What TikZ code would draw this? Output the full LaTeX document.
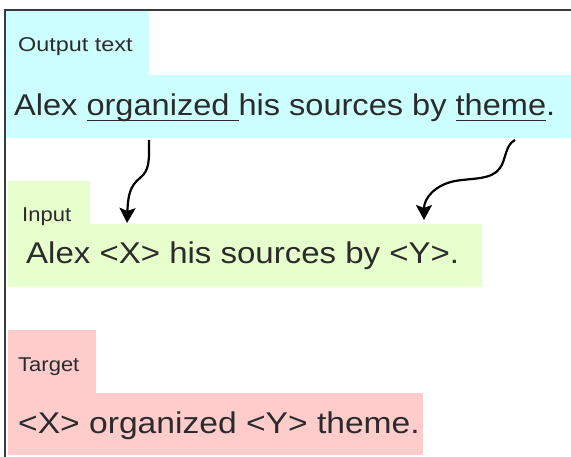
\documentclass[tikz,border=0pt]{standalone}
\usepackage{fontspec}
\setmainfont{Liberation Sans}
\usetikzlibrary{arrows.meta}
\definecolor{cyanbg}{HTML}{CCFFFF}
\definecolor{greenbg}{HTML}{E6FFCC}
\definecolor{pinkbg}{HTML}{FFCCCC}
\definecolor{txt}{HTML}{2B2B2B}
\definecolor{framec}{HTML}{3A3A3A}
\newsavebox\ulbox
\newcommand\myul[1]{\sbox\ulbox{#1}\rlap{\rule[-5pt]{\wd\ulbox}{1.4pt}}\usebox\ulbox}
\newcommand\hstr[1]{\scalebox{1.1}[1]{#1}}
\begin{document}
\begin{tikzpicture}[x=1pt,y=-1pt,
  box/.style={draw=none,inner sep=0pt,anchor=north west},
  big/.style={font=\fontsize{30}{34}\selectfont,text=txt,inner sep=0pt,anchor=base west},
  small/.style={font=\fontsize{20}{24}\selectfont,text=txt,inner sep=0pt,anchor=base west},
  link/.style={line width=2.2pt,black,-{Stealth[width=16pt,length=15pt,inset=3pt]}}]
\useasboundingbox (0,0) rectangle (571,457);
\fill[white] (0,0) rectangle (571,457);
% boxes
\node[box,fill=cyanbg,minimum width=143pt,minimum height=65pt] (outlab) at (6,11) {};
\node[box,fill=cyanbg,minimum width=565pt,minimum height=63pt] (outmain) at (6,75) {};
\node[box,fill=greenbg,minimum width=82pt,minimum height=44pt] (inlab) at (8,181) {};
\node[box,fill=greenbg,minimum width=474pt,minimum height=63pt] (inmain) at (8,224) {};
\node[box,fill=pinkbg,minimum width=88pt,minimum height=64pt] (tglab) at (8,330) {};
\node[box,fill=pinkbg,minimum width=415pt,minimum height=62pt] (tgmain) at (8,393) {};
% texts
\node[small] (outlabt) at (18,52) {\scalebox{1.17}[1]{Output text}};
\node[big] (outmaint) at (14,116) {\scalebox{1.085}[1]{Alex \myul{organized }his sources by \myul{theme}.}};
\node[small] (inlabt) at (22,222) {\hstr{Input}};
\node[big] (inmaint) at (26,264) {\hstr{Alex <X> his sources by <Y>.}};
\node[small] (tglabt) at (18,372) {\hstr{Target}};
\node[big] (tgmaint) at (18,434) {\scalebox{1.12}[1]{<X> organized <Y> theme.}};
% arrows
\coordinate (a1s) at (149,140);
\coordinate (a1e) at (127,223);
\coordinate (a2s) at (515,140);
\coordinate (a2e) at (424,220);
\draw[link] (a1s) .. controls (149,160) and (150,170) .. (140,178)
  .. controls (130,186) and (128,195) .. (a1e);
\draw[link] (a2s) .. controls (505,145) and (506,160) .. (500,168)
  .. controls (492,180) and (472,178) .. (455,181)
  .. controls (435,185) and (424,198) .. (a2e);
% frame
\draw[framec,line width=1.3pt] (4,10) -- (571,10);
\draw[framec,line width=1.3pt] (5,10) -- (5,457);
\end{tikzpicture}
\end{document}
